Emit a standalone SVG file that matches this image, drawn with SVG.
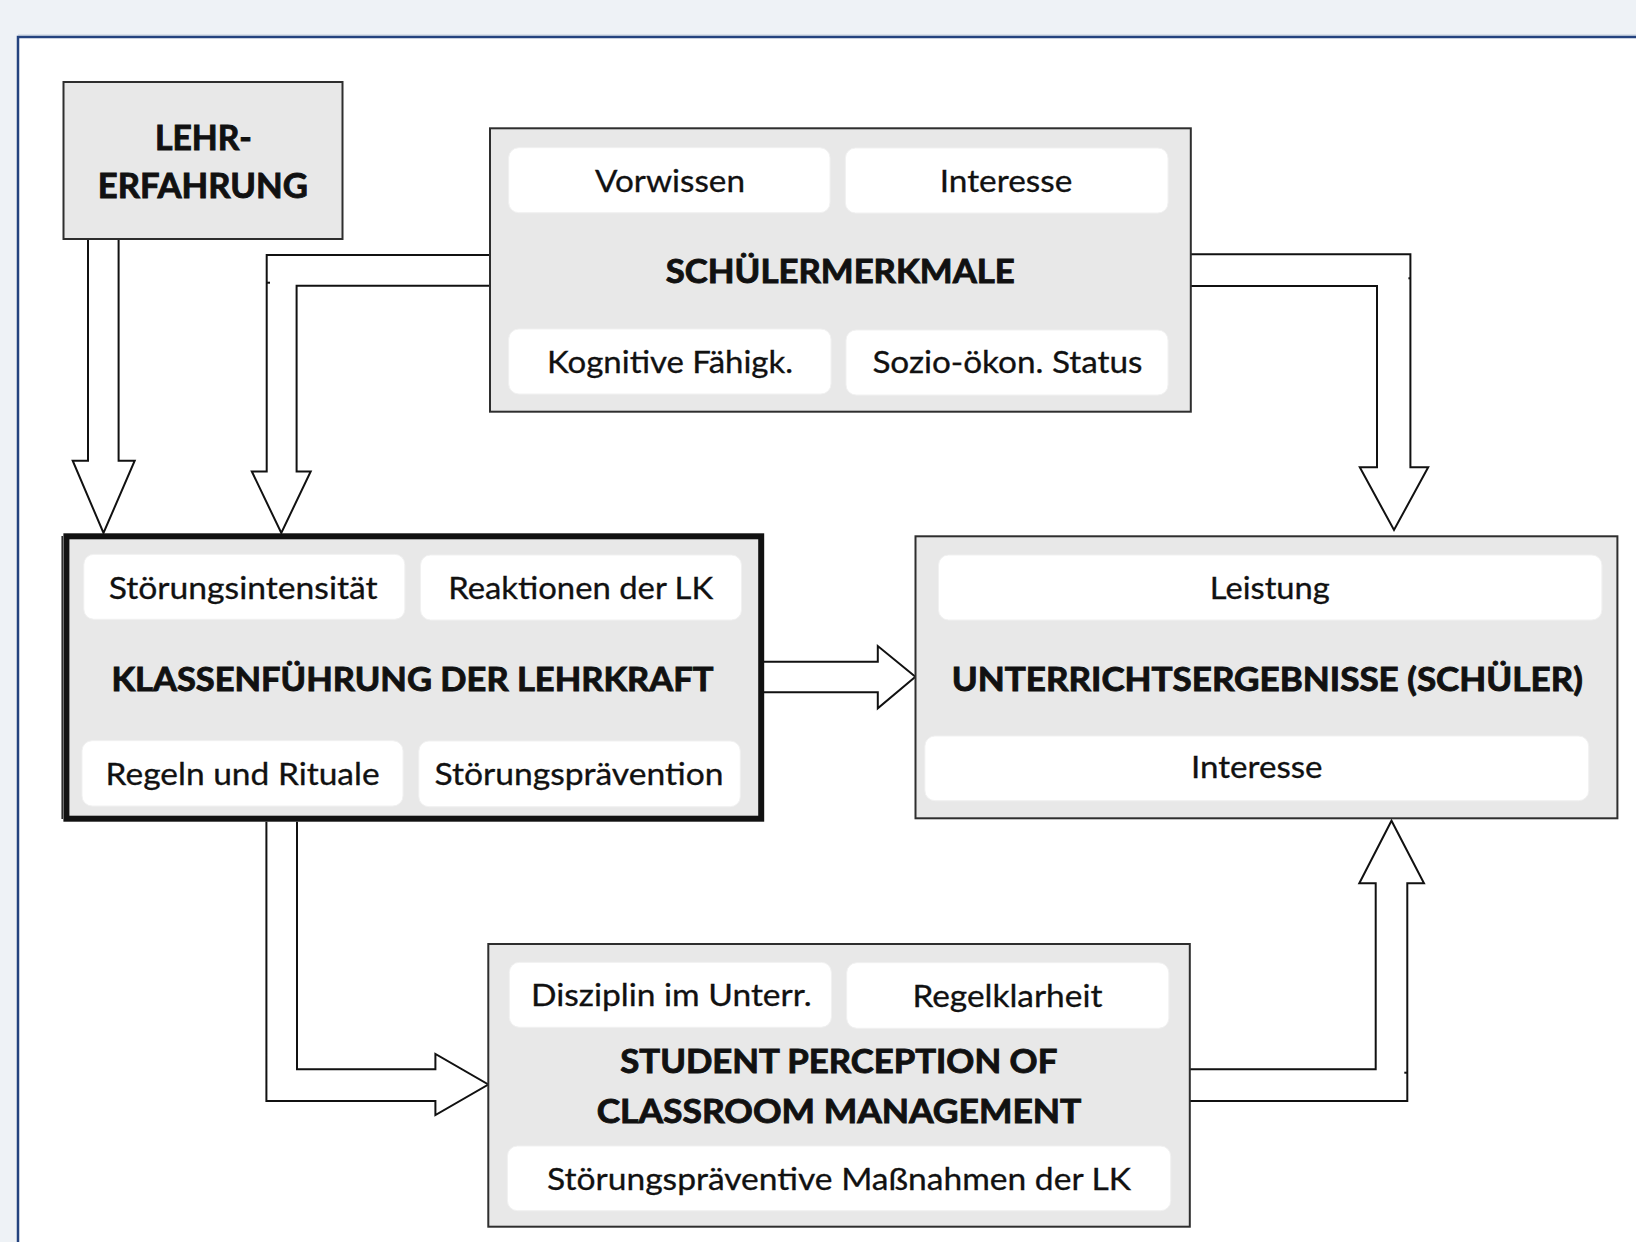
<svg xmlns="http://www.w3.org/2000/svg" width="1636" height="1242" viewBox="0 0 1636 1242">
<style>
.box{fill:#e8e8e8;stroke:#2e2e2e;stroke-width:2}
.thick{fill:#e8e8e8;stroke:#111;stroke-width:6}
.sub{fill:#fff;stroke:#f1f1f1;stroke-width:1}
.arrow{fill:#fff;stroke:#111;stroke-width:2;stroke-linejoin:miter}
.tick{stroke:#111;stroke-width:2;fill:none}
.t{font-family:Lato,"Liberation Sans",sans-serif;font-size:30px;fill:#111;text-anchor:middle;stroke:#111;stroke-width:0.3}
.b{font-family:Lato,"Liberation Sans",sans-serif;font-size:33px;font-weight:bold;fill:#111;text-anchor:middle;stroke:#111;stroke-width:0.9}
.bl{font-family:Lato,"Liberation Sans",sans-serif;font-size:34px;font-weight:bold;fill:#111;text-anchor:middle;stroke:#111;stroke-width:0.9}
</style>
<rect x="0" y="0" width="1636" height="1242" fill="#eef2f6"/>
<rect x="18" y="37" width="1700" height="1300" fill="#fff" stroke="#24437f" stroke-width="2.5"/>
<line x1="18" y1="35.2" x2="1636" y2="35.2" stroke="#a9b8cd" stroke-width="1"/>

<g id="connectors">
  <path class="arrow" d="M88,239 V460.7 H72.7 L103.5,533 L134.7,460.7 H118.6 V239"/>
  <path class="arrow" d="M490,255 H266.7 V471.4 H251.8 L281.3,533 L310.7,471.4 H296.6 V285.7 H490"/>
  <path class="tick" d="M266,282.7 H270"/>
  <path class="arrow" d="M1190.8,254.3 H1410.4 V467.3 H1428.2 L1394,530 L1359.8,467.3 H1377 V286 H1190.8"/>
  <path class="tick" d="M1408.4,278.3 H1411"/>
  <path class="arrow" d="M764,661.7 H877.8 V646 L915.4,676.7 L877.8,708.3 V692.3 H764"/>
  <path class="arrow" d="M266.4,821.7 V1101 H435.4 V1115 L488.3,1084.5 L435.4,1054 V1069.3 H297 V821.7"/>
  <path class="arrow" d="M1189.8,1069.3 H1375.7 V883.3 H1359.3 L1391.5,820.7 L1424,883.3 H1407.3 V1101 H1189.8"/>
  <path class="tick" d="M1404.3,1072.7 H1408"/>
</g>

<g id="lehrerfahrung">
  <rect class="box" x="63.5" y="82" width="279" height="157"/>
  <text class="bl" x="203.4" y="150" textLength="97" lengthAdjust="spacingAndGlyphs">LEHR-</text>
  <text class="bl" x="202.8" y="198" textLength="210" lengthAdjust="spacingAndGlyphs">ERFAHRUNG</text>
</g>

<g id="schuelermerkmale">
  <rect class="box" x="490" y="128.3" width="700.8" height="283.4"/>
  <rect class="sub" x="508.7" y="147.7" width="321.3" height="65" rx="10"/>
  <rect class="sub" x="845.4" y="148" width="322.6" height="65" rx="10"/>
  <rect class="sub" x="508.7" y="329" width="322.3" height="65" rx="10"/>
  <rect class="sub" x="846" y="330" width="322" height="65" rx="10"/>
  <text class="t" x="670" y="191.7" textLength="150" lengthAdjust="spacingAndGlyphs">Vorwissen</text>
  <text class="t" x="1006" y="191.7" textLength="132.6" lengthAdjust="spacingAndGlyphs">Interesse</text>
  <text class="b" x="840.3" y="282.7" textLength="349" lengthAdjust="spacingAndGlyphs">SCHÜLERMERKMALE</text>
  <text class="t" x="670" y="373.3" textLength="246" lengthAdjust="spacingAndGlyphs">Kognitive Fähigk.</text>
  <text class="t" x="1007.4" y="373.3" textLength="270" lengthAdjust="spacingAndGlyphs">Sozio-ökon. Status</text>
</g>

<g id="klassenfuehrung">
  <line x1="62.2" y1="536" x2="62.2" y2="819" stroke="#222" stroke-width="1.5"/>
  <rect class="thick" x="66.4" y="536.3" width="694.8" height="282.4"/>
  <rect class="sub" x="83.8" y="554.3" width="321" height="65" rx="10"/>
  <rect class="sub" x="420.5" y="555" width="321" height="65" rx="10"/>
  <rect class="sub" x="82" y="740.7" width="321" height="65.3" rx="10"/>
  <rect class="sub" x="418.8" y="741" width="321.5" height="65.7" rx="10"/>
  <text class="t" x="243.2" y="599.3" textLength="269" lengthAdjust="spacingAndGlyphs">Störungsintensität</text>
  <text class="t" x="580.7" y="599.3" textLength="265" lengthAdjust="spacingAndGlyphs">Reaktionen der LK</text>
  <text class="b" x="412.4" y="691" textLength="602" lengthAdjust="spacingAndGlyphs">KLASSENFÜHRUNG DER LEHRKRAFT</text>
  <text class="t" x="242.6" y="785" textLength="274" lengthAdjust="spacingAndGlyphs">Regeln und Rituale</text>
  <text class="t" x="579" y="785" textLength="289" lengthAdjust="spacingAndGlyphs">Störungsprävention</text>
</g>

<g id="unterrichtsergebnisse">
  <rect class="box" x="915.5" y="536.3" width="701.9" height="282"/>
  <rect class="sub" x="938.5" y="555" width="663.4" height="65" rx="10"/>
  <rect class="sub" x="924.9" y="736" width="663.8" height="64.7" rx="10"/>
  <text class="t" x="1269.8" y="599.3" textLength="120" lengthAdjust="spacingAndGlyphs">Leistung</text>
  <text class="b" x="1267.3" y="691" textLength="631" lengthAdjust="spacingAndGlyphs">UNTERRICHTSERGEBNISSE (SCHÜLER)</text>
  <text class="t" x="1256.8" y="778.3" textLength="131.5" lengthAdjust="spacingAndGlyphs">Interesse</text>
</g>

<g id="student-perception">
  <rect class="box" x="488.3" y="944" width="701.5" height="282.7"/>
  <rect class="sub" x="509.3" y="962.3" width="322.1" height="65" rx="10"/>
  <rect class="sub" x="846.7" y="962.7" width="322.1" height="65.6" rx="10"/>
  <rect class="sub" x="507.4" y="1146" width="663.3" height="64.7" rx="10"/>
  <text class="t" x="671.3" y="1005.7" textLength="280.6" lengthAdjust="spacingAndGlyphs">Disziplin im Unterr.</text>
  <text class="t" x="1007.4" y="1006.7" textLength="190" lengthAdjust="spacingAndGlyphs">Regelklarheit</text>
  <text class="b" x="838.8" y="1073.3" textLength="437" lengthAdjust="spacingAndGlyphs">STUDENT PERCEPTION OF</text>
  <text class="b" x="839" y="1123.3" textLength="484.7" lengthAdjust="spacingAndGlyphs">CLASSROOM MANAGEMENT</text>
  <text class="t" x="839" y="1190" textLength="584" lengthAdjust="spacingAndGlyphs">Störungspräventive Maßnahmen der LK</text>
</g>
</svg>
